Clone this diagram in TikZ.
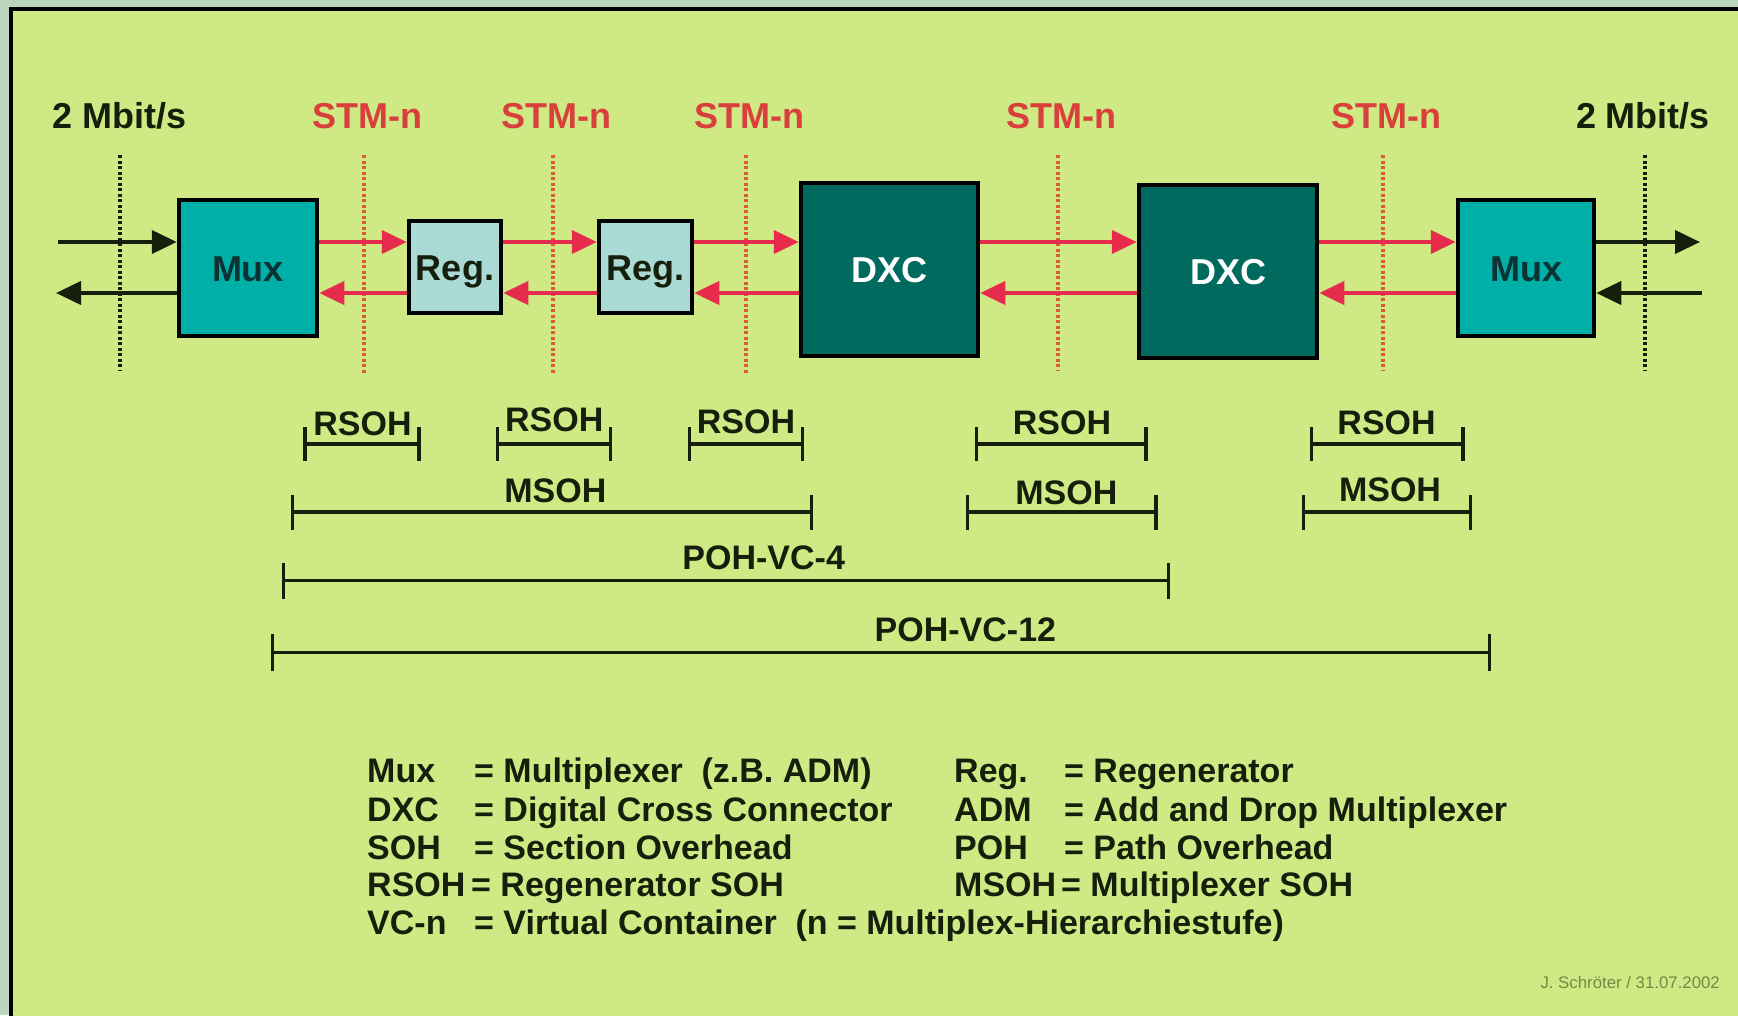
\documentclass[tikz,border=0pt]{standalone}
\usepackage{fontspec}
\setmainfont{Liberation Sans}
\usetikzlibrary{arrows.meta}
\definecolor{outside}{HTML}{BCD6BE}
\definecolor{panel}{HTML}{CFEA84}
\definecolor{muxfill}{HTML}{00AFA8}
\definecolor{regfill}{HTML}{A9DAD6}
\definecolor{dxcfill}{HTML}{006A5E}
\definecolor{sigred}{HTML}{E62B4C}
\definecolor{stmred}{HTML}{D93F3B}
\definecolor{dotred}{HTML}{DC5A38}
\definecolor{ink}{HTML}{161E0C}
\definecolor{muxtext}{HTML}{0B3333}
\definecolor{credit}{HTML}{6E8C45}
\newcommand{\ohspan}[8]{%
  \coordinate (#1a) at (#2,#4);
  \coordinate (#1b) at (#3,#4);
  \draw[spanline] (#1a) -- (#1b);
  \draw[spanline] ([yshift=#5pt]#1a) -- ([yshift=-#5pt]#1a);
  \draw[spanline] ([yshift=#5pt]#1b) -- ([yshift=-#5pt]#1b);
  \node[spanlbl] (#1t) at (#6,#7) {#8};
}
\begin{document}
\begin{tikzpicture}[x=1pt,y=-1pt,
  box/.style={draw=black, line width=4.5pt, inner sep=0pt,
    text height=26pt, text depth=0pt,
    font=\fontsize{36}{40}\selectfont\bfseries},
  muxbox/.style={box, fill=muxfill, text=muxtext},
  regbox/.style={box, fill=regfill, text=ink},
  dxcbox/.style={box, fill=dxcfill, text=white},
  sig/.style={draw=sigred, line width=4pt, -{Triangle[length=25pt,width=23pt]}},
  blk/.style={draw=ink, line width=4pt, -{Triangle[length=25pt,width=23pt]}},
  dotblk/.style={draw=ink, line width=4pt, dash pattern=on 3pt off 2.5pt},
  dotrd/.style={draw=dotred, line width=4pt, dash pattern=on 3pt off 2.5pt},
  toplbl/.style={anchor=base, inner sep=0pt, font=\fontsize{36}{40}\selectfont\bfseries},
  spanline/.style={draw=ink, line width=3.2pt},
  spanlbl/.style={anchor=base, inner sep=0pt, text=ink, font=\fontsize{34}{38}\selectfont\bfseries},
  leg/.style={anchor=base west, inner sep=0pt, text=ink, font=\fontsize{34}{38}\selectfont\bfseries},
]
\useasboundingbox (0,0) rectangle (1738,1015);
% background and frame
\fill[outside] (0,0) rectangle (1738,1015);
\fill[panel] (11,9) rectangle (1745,1025);
\draw[black, line width=4pt] (11,1030) -- (11,9) -- (1745,9);

% dotted section boundaries
\coordinate (b0t) at (120,155);  \coordinate (b0b) at (120,370);
\coordinate (b1t) at (364,155);  \coordinate (b1b) at (364,373);
\coordinate (b2t) at (553,155);  \coordinate (b2b) at (553,373);
\coordinate (b3t) at (746,155);  \coordinate (b3b) at (746,373);
\coordinate (b4t) at (1058,155); \coordinate (b4b) at (1058,370);
\coordinate (b5t) at (1383,155); \coordinate (b5b) at (1383,370);
\coordinate (b6t) at (1645,155); \coordinate (b6b) at (1645,370);
\draw[dotblk] (b0t) -- (b0b);
\draw[dotrd] (b1t) -- (b1b);
\draw[dotrd] (b2t) -- (b2b);
\draw[dotrd] (b3t) -- (b3b);
\draw[dotrd] (b4t) -- (b4b);
\draw[dotrd] (b5t) -- (b5b);
\draw[dotblk] (b6t) -- (b6b);

% top labels
\node[toplbl, text=ink] (t0) at (120,128.6) {2 Mbit/s};
\node[toplbl, text=stmred] (t1) at (367,128.6) {STM-n};
\node[toplbl, text=stmred] (t2) at (556,128.6) {STM-n};
\node[toplbl, text=stmred] (t3) at (749,128.6) {STM-n};
\node[toplbl, text=stmred] (t4) at (1061,128.6) {STM-n};
\node[toplbl, text=stmred] (t5) at (1386,128.6) {STM-n};
\node[toplbl, text=ink] (t6) at (1643,128.6) {2 Mbit/s};

% boxes
\node[muxbox, minimum width=138pt, minimum height=136pt] (mux1) at (248,268) {Mux};
\node[regbox, minimum width=92pt, minimum height=92pt] (reg1) at (455,267) {Reg.};
\node[regbox, minimum width=93pt, minimum height=92pt] (reg2) at (645.5,267) {Reg.};
\node[dxcbox, minimum width=177pt, minimum height=173pt] (dxc1) at (889.5,269.5) {DXC};
\node[dxcbox, minimum width=178pt, minimum height=173pt] (dxc2) at (1228,271.5) {DXC};
\node[muxbox, minimum width=136pt, minimum height=136pt] (mux2) at (1526,268) {Mux};

% signal arrows
\coordinate (up) at (0,242);
\coordinate (dn) at (0,293);
\coordinate (inL) at (58,242);
\coordinate (outL) at (56,293);
\coordinate (outR) at (1700,242);
\coordinate (inR) at (1702,293);
\draw[blk] (inL) -- (mux1.west |- up);
\draw[blk] (mux1.west |- dn) -- (outL);
\draw[blk] (mux2.east |- up) -- (outR);
\draw[blk] (inR) -- (mux2.east |- dn);
\draw[sig] (mux1.east |- up) -- (reg1.west |- up);
\draw[sig] (reg1.west |- dn) -- (mux1.east |- dn);
\draw[sig] (reg1.east |- up) -- (reg2.west |- up);
\draw[sig] (reg2.west |- dn) -- (reg1.east |- dn);
\draw[sig] (reg2.east |- up) -- (dxc1.west |- up);
\draw[sig] (dxc1.west |- dn) -- (reg2.east |- dn);
\draw[sig] (dxc1.east |- up) -- (dxc2.west |- up);
\draw[sig] (dxc2.west |- dn) -- (dxc1.east |- dn);
\draw[sig] (dxc2.east |- up) -- (mux2.west |- up);
\draw[sig] (mux2.west |- dn) -- (dxc2.east |- dn);

% overhead spans
\ohspan{rs1}{305}{419}{444}{17}{362.5}{435.6}{RSOH}
\ohspan{rs2}{497.7}{610.7}{444}{17}{554.2}{431.2}{RSOH}
\ohspan{rs3}{689.4}{802.5}{444}{17}{746}{433.4}{RSOH}
\ohspan{rs4}{976.5}{1146}{444}{17}{1062}{434.5}{RSOH}
\ohspan{rs5}{1311.2}{1463}{444}{17}{1386.6}{434.5}{RSOH}
\ohspan{ms1}{292.6}{811.3}{512}{17.5}{555.3}{502.1}{MSOH}
\ohspan{ms2}{967.6}{1156}{512}{17.5}{1066.3}{504.3}{MSOH}
\ohspan{ms3}{1303.5}{1470.8}{512}{17.5}{1390}{501}{MSOH}
\ohspan{p4}{283.8}{1168.3}{580.8}{18}{763.7}{569.7}{POH-VC-4}
\ohspan{p12}{272.7}{1489.7}{652.8}{18.5}{965.4}{641.8}{POH-VC-12}

% legend
\node[leg] (k1) at (367,782.5) {Mux};
\node[leg] (v1) at (474,782.5) {= Multiplexer\hspace{0.55em}(z.B. ADM)};
\node[leg] (k2) at (367,821.3) {DXC};
\node[leg] (v2) at (474,821.3) {= Digital Cross Connector};
\node[leg] (k3) at (367,859) {SOH};
\node[leg] (v3) at (474,859) {= Section Overhead};
\node[leg] (k4) at (367,896.7) {RSOH};
\node[leg] (v4) at (471,896.7) {= Regenerator SOH};
\node[leg] (k5) at (367,934.4) {VC-n};
\node[leg] (v5) at (474,934.4) {= Virtual Container\hspace{0.55em}(n = Multiplex-Hierarchiestufe)};
\node[leg] (k6) at (954,782.5) {Reg.};
\node[leg] (v6) at (1064,782.5) {= Regenerator};
\node[leg] (k7) at (954,821.3) {ADM};
\node[leg] (v7) at (1064,821.3) {= Add and Drop Multiplexer};
\node[leg] (k8) at (954,859) {POH};
\node[leg] (v8) at (1064,859) {= Path Overhead};
\node[leg] (k9) at (954,896.7) {MSOH};
\node[leg] (v9) at (1061,896.7) {= Multiplexer SOH};

% credit
\node[anchor=base east, inner sep=0pt, text=credit, font=\fontsize{16.8}{19}\selectfont] (cr) at (1720,988) {J. Schröter / 31.07.2002};
\end{tikzpicture}
\end{document}
